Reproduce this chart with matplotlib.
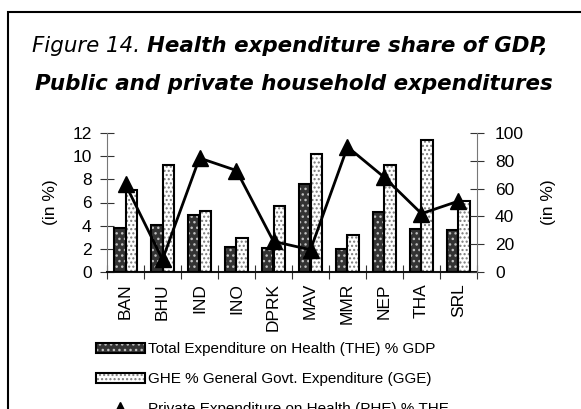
import matplotlib
matplotlib.use("Agg")
import matplotlib.pyplot as plt
import numpy as np
from matplotlib.patches import Patch, Rectangle
from matplotlib.lines import Line2D
from matplotlib.legend_handler import HandlerTuple

categories = ["BAN", "BHU", "IND", "INO", "DPRK", "MAV", "MMR", "NEP", "THA", "SRL"]
the_gdp = [3.8, 4.1, 4.9, 2.2, 2.1, 7.6, 2.0, 5.2, 3.7, 3.6]
ghe_gge = [7.1, 9.2, 5.3, 2.9, 5.7, 10.2, 3.2, 9.2, 11.4, 6.1]
phe_the = [63, 9, 82, 73, 22, 16, 90, 68, 42, 51]
left_ticks = [0, 2, 4, 6, 8, 10, 12]
right_ticks = [0, 20, 40, 60, 80, 100]
legend_labels = ["Total Expenditure on Health (THE) % GDP",
                 "GHE % General Govt. Expenditure (GGE)",
                 "Private Expenditure on Health (PHE) % THE"]

W, H = 581, 409
fig = plt.figure(figsize=(W / 100, H / 100), dpi=100)
fig.patch.set_facecolor("white")

# frame
fig.patches.append(Rectangle((8 / W, -0.1), 1.2, 1 - 12 / H + 0.1,
                             transform=fig.transFigure, fill=False,
                             edgecolor="black", linewidth=1.5))

ax = fig.add_axes([107 / W, (H - 272) / H, (477 - 107) / W, (272 - 133) / H])
ax2 = ax.twinx()
ax.set_zorder(1)
ax2.set_zorder(2)
ax.patch.set_visible(False)
ax2.patch.set_visible(False)

x = np.arange(len(categories))
bw = 0.3
dark_face, dark_hatch = "#333333", "#c0c0c0"
light_face, light_hatch = "#ffffff", "#7a7a7a"

ax.bar(x - bw / 2, the_gdp, bw, color=dark_face, edgecolor=dark_hatch,
       hatch="...", linewidth=0, zorder=2)
ax.bar(x - bw / 2, the_gdp, bw, fill=False, edgecolor="black", linewidth=1.5, zorder=3)
ax.bar(x + bw / 2, ghe_gge, bw, color=light_face, edgecolor=light_hatch,
       hatch="....", linewidth=0, zorder=2)
ax.bar(x + bw / 2, ghe_gge, bw, fill=False, edgecolor="black", linewidth=1.5, zorder=3)

ax2.plot(x, phe_the, color="black", linewidth=2, marker="^", markersize=11,
         markerfacecolor="black", markeredgecolor="black", zorder=5)

ax.set_xlim(-0.5, len(categories) - 0.5)
ax.set_ylim(0, 12)
ax2.set_ylim(0, 100)
ax.set_yticks(left_ticks)
ax2.set_yticks(right_ticks)

tfont = dict(family="Liberation Sans", size=12.5)
ax.set_xticks(np.arange(len(categories) + 1) - 0.5)
ax.set_xticklabels([])
ax.set_xticks(x, minor=True)
ax.set_xticklabels(categories, minor=True, rotation=90, fontdict=tfont)
ax.tick_params(axis="x", which="minor", length=0, pad=8)
ax.tick_params(axis="x", which="major", direction="inout", length=10, color="#333333")
ax.tick_params(axis="y", direction="inout", length=10, color="#333333", pad=6)
ax2.tick_params(axis="y", direction="inout", length=10, color="#333333", pad=8)
for lab in ax.get_yticklabels() + ax2.get_yticklabels():
    lab.set_fontfamily("Liberation Sans")
    lab.set_fontsize(12.5)

for a in (ax, ax2):
    a.spines["top"].set_visible(False)
ax.spines["right"].set_visible(False)
ax2.spines["left"].set_visible(False)
ax2.spines["bottom"].set_visible(False)
ax.spines["left"].set_color("#777777")
ax.spines["bottom"].set_color("#111111")
ax.spines["bottom"].set_linewidth(1.5)
ax2.spines["right"].set_color("#777777")

ax.set_ylabel("(in %)", fontfamily="Liberation Sans", fontsize=12.5, labelpad=10)
ax2.set_ylabel("(in %)", fontfamily="Liberation Sans", fontsize=12.5, rotation=90, labelpad=12)

# title
r = fig.canvas.get_renderer()
tsize = 15.4
y1 = 1 - 52 / H
y2 = 1 - 90 / H
t1a = fig.text(0, y1, "Figure 14. ", fontsize=tsize, style="oblique",
               family="DejaVu Sans", va="baseline")
t1b = fig.text(0, y1, "Health expenditure share of GDP,", fontsize=tsize,
               style="oblique", weight="bold", family="DejaVu Sans", va="baseline")
wa = t1a.get_window_extent(r).width
wb = t1b.get_window_extent(r).width
start = 32
t1a.set_x(start / W)
t1b.set_x((start + wa) / W)
fig.text(294 / W, y2, "Public and private household expenditures", fontsize=tsize,
         style="oblique", weight="bold", family="DejaVu Sans", ha="center", va="baseline")

# legend
h1 = (Patch(facecolor=dark_face, edgecolor=dark_hatch, hatch="...", linewidth=0),
      Patch(fill=False, edgecolor="black", linewidth=1.5))
h2 = (Patch(facecolor=light_face, edgecolor=light_hatch, hatch="....", linewidth=0),
      Patch(fill=False, edgecolor="black", linewidth=1.5))
h3 = Line2D([], [], color="black", marker="^", linestyle="none", markersize=9)
fig.legend([h1, h2, h3], legend_labels,
           handler_map={tuple: HandlerTuple(ndivide=1, pad=0)},
           loc="upper left", bbox_to_anchor=(96 / W, 1 - 342 / H),
           frameon=False, borderpad=0, borderaxespad=0,
           handlelength=3.2, handleheight=0.65, handletextpad=0.2,
           labelspacing=1.05, prop=dict(family="Liberation Sans", size=11))

fig.savefig("out.png", dpi=100)
